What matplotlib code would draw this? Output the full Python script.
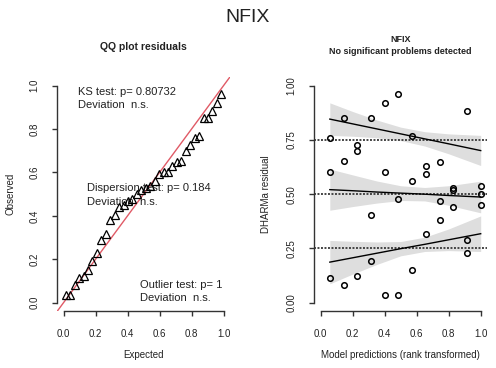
import matplotlib
matplotlib.use("Agg")
import matplotlib.pyplot as plt
import numpy as np

plt.rcParams['font.family'] = ['Liberation Sans', 'DejaVu Sans']

W, H = 496, 368
TXT = '#222222'

# Rank-transformed model predictions (12 tied groups of 3 observations)
pred_rank = [0.057, 0.143, 0.229, 0.314, 0.400, 0.486, 0.571, 0.657, 0.743, 0.829, 0.914, 1.000]
# Scaled residuals belonging to each prediction group
resid_groups = [
    [0.761, 0.600, 0.115],
    [0.850, 0.651, 0.081],
    [0.728, 0.700, 0.121],
    [0.850, 0.404, 0.193],
    [0.919, 0.603, 0.037],
    [0.962, 0.478, 0.034],
    [0.770, 0.559, 0.153],
    [0.631, 0.594, 0.317],
    [0.648, 0.470, 0.383],
    [0.528, 0.520, 0.441],
    [0.884, 0.288, 0.230],
    [0.536, 0.502, 0.449],
]

# Quantile regression fits and their confidence bands
quantiles = [0.25, 0.5, 0.75]
band_x = [0.057, 0.2, 0.35, 0.5, 0.65, 0.8, 1.0]
q_fit = {
    0.25: [0.187, 0.207, 0.228, 0.249, 0.269, 0.290, 0.318],
    0.5:  [0.521, 0.516, 0.510, 0.505, 0.500, 0.494, 0.487],
    0.75: [0.846, 0.824, 0.801, 0.778, 0.755, 0.732, 0.701],
}
q_lower = {
    0.25: [0.087, 0.132, 0.176, 0.216, 0.236, 0.240, 0.236],
    0.5:  [0.426, 0.443, 0.459, 0.471, 0.469, 0.449, 0.414],
    0.75: [0.771, 0.767, 0.760, 0.747, 0.722, 0.686, 0.632],
}
q_upper = {
    0.25: [0.287, 0.283, 0.280, 0.282, 0.302, 0.340, 0.400],
    0.5:  [0.616, 0.589, 0.561, 0.539, 0.531, 0.539, 0.560],
    0.75: [0.921, 0.881, 0.842, 0.809, 0.788, 0.778, 0.771],
}

# Test results
ks_p = 0.80732
disp_p = 0.184
outlier_p = 1

model_name = "NFIX"
qq_ticks = [0.0, 0.2, 0.4, 0.6, 0.8, 1.0]
qq_ticklabels = ["0.0", "0.2", "0.4", "0.6", "0.8", "1.0"]
res_yticks = [0.0, 0.25, 0.5, 0.75, 1.0]
res_yticklabels = ["0.00", "0.25", "0.50", "0.75", "1.00"]


def fx(px):
    return px / W


def fy(py):
    return 1 - py / H


fig = plt.figure(figsize=(W / 100, H / 100), dpi=100)

ax_w = 172.8
ax_h = 234.4
ax_top = 77.0
ax1 = fig.add_axes([fx(57.1), fy(ax_top + ax_h), ax_w / W, ax_h / H])
ax2 = fig.add_axes([fx(314.3), fy(ax_top + ax_h), ax_w / W, ax_h / H])


def style_axes(ax, xticks, xlabels, yticks, ylabels):
    ax.set_xlim(-0.04, 1.04)
    ax.set_ylim(-0.04, 1.04)
    for s in ('top', 'right'):
        ax.spines[s].set_visible(False)
    for s in ('left', 'bottom'):
        ax.spines[s].set_color('#333333')
        ax.spines[s].set_linewidth(1.0)
    ax.spines['left'].set_bounds(yticks[0], yticks[-1])
    ax.spines['bottom'].set_bounds(xticks[0], xticks[-1])
    ax.set_xticks(xticks)
    ax.set_xticklabels(xlabels)
    ax.set_yticks(yticks)
    ax.set_yticklabels(ylabels, rotation=90, va='center')
    ax.tick_params(direction='out', length=3.8, width=1.0, color='#333333',
                   labelsize=7, labelcolor=TXT)
    ax.tick_params(axis='x', pad=9)
    ax.tick_params(axis='y', pad=9)
    ax.patch.set_visible(False)


# ---- QQ plot ----
observed = np.sort(np.concatenate([np.array(g) for g in resid_groups]))
n = len(observed)
expected = (np.arange(1, n + 1) - 0.5) / n

ax1.plot([-0.1, 1.1], [-0.1, 1.1], color='#e05a66', lw=1.0, zorder=1,
         clip_on=True)
ax1.plot(expected, observed, linestyle='none', marker='^', markersize=5.2,
         markerfacecolor='none', markeredgecolor='black', markeredgewidth=0.9,
         zorder=3)
style_axes(ax1, qq_ticks, qq_ticklabels, qq_ticks, qq_ticklabels)

fs_test = 8
ax1.text(0.091, 0.972, f"KS test: p= {ks_p}", fontsize=fs_test, color=TXT,
         ha='left', va='center', zorder=2)
ax1.text(0.091, 0.911, "Deviation  n.s.", fontsize=fs_test, color=TXT,
         ha='left', va='center', zorder=2)
ax1.text(0.145, 0.529, f"Dispersion test: p= {disp_p}", fontsize=fs_test,
         color=TXT, ha='left', va='center', zorder=2)
ax1.text(0.145, 0.466, "Deviation  n.s.", fontsize=fs_test, color=TXT,
         ha='left', va='center', zorder=2)
ax1.text(0.478, 0.082, f"Outlier test: p= {outlier_p}", fontsize=fs_test,
         color=TXT, ha='left', va='center', zorder=2)
ax1.text(0.478, 0.022, "Deviation  n.s.", fontsize=fs_test, color=TXT,
         ha='left', va='center', zorder=2)

# ---- Residuals vs predictions ----
for q in quantiles:
    ax2.fill_between(band_x, q_lower[q], q_upper[q], color='black',
                     alpha=0.13, linewidth=0, zorder=1)
    ax2.axhline(q, color='#444444', lw=1.4, linestyle=(0, (1, 0.8)), zorder=2)
    ax2.plot(band_x, q_fit[q], color='black', lw=1.0, zorder=3)

px = np.repeat(pred_rank, [len(g) for g in resid_groups])
py = np.concatenate([np.array(g) for g in resid_groups])
ax2.plot(px, py, linestyle='none', marker='o', markersize=4.0,
         markerfacecolor='none', markeredgecolor='black', markeredgewidth=1.1,
         zorder=4)
style_axes(ax2, qq_ticks, qq_ticklabels, res_yticks, res_yticklabels)

# ---- Titles and axis labels ----
fig.text(fx(248), fy(18), model_name, fontsize=14, color=TXT,
         ha='center', va='center')
fig.text(fx(143.5), fy(47), "QQ plot residuals", fontsize=7.5,
         fontweight='bold', color=TXT, ha='center', va='center')
fig.text(fx(400.7), fy(40), model_name, fontsize=6.5, fontweight='bold',
         color=TXT, ha='center', va='center')
fig.text(fx(400.7), fy(51), "No significant problems detected", fontsize=6.5,
         fontweight='bold', color=TXT, ha='center', va='center')

fig.text(fx(143.5), fy(355), "Expected", fontsize=7, color=TXT,
         ha='center', va='center')
fig.text(fx(10), fy(194), "Observed", fontsize=7, color=TXT,
         ha='center', va='center', rotation=90)
fig.text(fx(400.7), fy(355), "Model predictions (rank transformed)",
         fontsize=7, color=TXT, ha='center', va='center')
fig.text(fx(266), fy(194), "DHARMa residual", fontsize=7, color=TXT,
         ha='center', va='center', rotation=90)

fig.savefig("out.png", dpi=100, facecolor='white')
